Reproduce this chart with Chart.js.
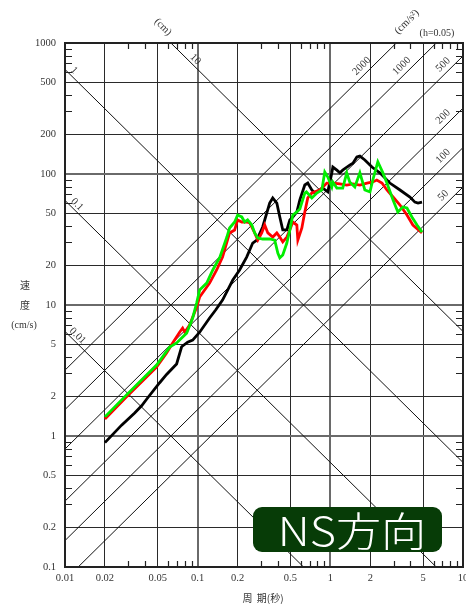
<!DOCTYPE html>
<html><head><meta charset="utf-8">
<script src="https://cdn.jsdelivr.net/npm/chart.js@4.4.0/dist/chart.umd.min.js"></script>
<style>html,body{margin:0;padding:0;background:#fff;}#wrap{width:466px;height:605px;position:relative;}</style>
</head><body><div id="wrap"><canvas id="c" width="466" height="605"></canvas></div>
<script>
// ---- axis ticks ----
const xTicks = [0.01,0.02,0.05,0.1,0.2,0.5,1,2,5,10];
const yTicks = [0.1,0.2,0.5,1,2,5,10,20,50,100,200,500,1000];
// ---- tripartite reference lines ----
const dispLines = [0.01,0.1,1,10];            // displacement (cm)
const dispLabelT = [0.0116,0.0115,0.0109,0.0898];
const accLines = [50,100,200,500,1000,2000];  // acceleration (cm/s^2)
const accLabelT = [7.8,7.8,7.8,7.8,3.8,1.9];
// ---- series (period s, velocity cm/s) ----
const blackT = [0.02,0.0267,0.0335,0.0378,0.0419,0.0517,0.0583,0.0694,0.0757,0.084,0.0917,0.1035,0.123,0.137,0.154,0.184,0.207,0.234,0.26,0.279,0.309,0.349,0.368,0.395,0.416,0.438,0.47,0.495,0.521,0.559,0.589,0.642,0.676,0.725,0.764,0.833,0.878,0.957,1.026,1.045,1.12,1.18,1.24,1.4,1.48,1.585,1.67,1.82,2.06,2.36,2.81,3.35,3.98,4.34,4.58,4.91];
const blackV = [0.89,1.21,1.5,1.7,1.95,2.55,2.95,3.55,4.8,5.2,5.4,6.2,7.96,9.2,10.9,15.5,18.5,23.2,29.7,31.3,39.4,60,65.6,60,47,37.4,37.4,44.6,47,51.3,63.4,82.4,85.3,75.5,71.6,75.5,78,73,102,113,107,102,107,117,121,135,137,128,113,102,85.3,75.5,66.7,61,60,61];
const redT = [0.02,0.0291,0.049,0.0583,0.0648,0.0731,0.077,0.08,0.087,0.0983,0.1035,0.123,0.139,0.154,0.174,0.19,0.2,0.215,0.234,0.247,0.269,0.284,0.304,0.32,0.338,0.368,0.395,0.416,0.438,0.47,0.495,0.521,0.559,0.569,0.61,0.642,0.676,0.725,0.764,0.833,0.878,0.941,1.045,1.18,1.33,1.48,1.67,1.89,2.09,2.24,2.45,2.67,2.97,3.35,3.78,4.19,4.91];
const redV = [1.35,1.99,3.36,4.3,5.13,6.2,6.67,6.2,7.03,9.66,11.5,14.7,18.5,23.2,35.5,37.4,44.6,43,43,42.3,35.5,31.3,35.5,40.8,35.5,33,35.5,33,30.3,33,37.4,43,40.8,31.3,38.7,51.3,65.6,71.6,73,75.5,79.6,85.3,85.3,83.9,82.4,83.9,82.4,85.3,86.9,90,85.3,75.5,66.7,58,48.6,40.8,35.5];
const greenT = [0.02,0.0291,0.049,0.0615,0.0694,0.0826,0.0917,0.0983,0.1035,0.117,0.13,0.147,0.166,0.174,0.19,0.2,0.215,0.226,0.238,0.256,0.269,0.284,0.309,0.349,0.381,0.402,0.416,0.438,0.47,0.495,0.521,0.559,0.589,0.642,0.66,0.725,0.791,0.863,0.908,0.957,1.026,1.045,1.12,1.24,1.33,1.4,1.53,1.67,1.82,1.99,2.09,2.28,2.49,2.67,2.97,3.23,3.52,3.78,4.12,4.5,4.91];
const greenV = [1.4,2.06,3.48,4.77,5.13,6.1,7.96,10.4,13,14.7,18.5,23.2,33,38.7,43,48.6,47,43,44.6,40.8,35.5,32.5,31.9,31.9,31.3,24.9,22.9,24.1,29.7,37.4,48.6,51.3,54.1,71.6,73,65.6,71.6,75.5,103.6,94.8,79.6,86.9,78,78,102,86.9,79.6,102,75.5,73,90,124,102,85.3,63.4,51.3,56,55,47,40.8,36];

const TWO_PI = 2*Math.PI;
const pts = (T,V)=>T.map((t,i)=>({x:t,y:V[i]}));
const isDecade = v => Math.abs(Math.log10(v)-Math.round(Math.log10(v)))<1e-9;

const refSets = [];
dispLines.forEach(D=>refSets.push({data:[{x:0.01,y:TWO_PI*D/0.01},{x:10,y:TWO_PI*D/10}],borderColor:'#111',borderWidth:1,pointRadius:0,showLine:true,clip:0,order:10}));
accLines.forEach(A=>refSets.push({data:[{x:0.01,y:A*0.01/TWO_PI},{x:10,y:A*10/TWO_PI}],borderColor:'#111',borderWidth:1,pointRadius:0,showLine:true,clip:0,order:10}));

const SERIF = '"Liberation Serif", "DejaVu Serif", serif';
const CJK = '"Noto Sans CJK JP", sans-serif';

const deco = {
  id:'deco',
  afterDraw(chart){
    const {ctx, chartArea:a, scales:{x,y}} = chart;
    ctx.save();
    ctx.strokeStyle='#222'; ctx.lineWidth=2;
    ctx.strokeRect(a.left,a.top,a.right-a.left,a.bottom-a.top);
    // minor ticks
    ctx.lineWidth=1.2; ctx.strokeStyle='#222';
    const mult=[3,4,6,7,8,9];
    for(let k=-2;k<=0;k++) for(const m of mult){
      const px=Math.round(x.getPixelForValue(m*Math.pow(10,k)))+0.5;
      ctx.beginPath(); ctx.moveTo(px,a.top); ctx.lineTo(px,a.top+6);
      ctx.moveTo(px,a.bottom); ctx.lineTo(px,a.bottom-6); ctx.stroke();
    }
    for(let k=-1;k<=2;k++) for(const m of mult){
      const py=Math.round(y.getPixelForValue(m*Math.pow(10,k)))+0.5;
      ctx.beginPath(); ctx.moveTo(a.left,py); ctx.lineTo(a.left+7,py);
      ctx.moveTo(a.right,py); ctx.lineTo(a.right-7,py); ctx.stroke();
    }
    // rotated labels
    const rot=(txt,cx,cy,ang,font)=>{
      ctx.save(); ctx.translate(cx,cy); ctx.rotate(ang);
      ctx.font=font; ctx.fillStyle='#333'; ctx.textAlign='center'; ctx.textBaseline='middle';
      ctx.fillText(txt,0,0); ctx.restore();
    };
    const f10='10.5px '+SERIF;
    dispLines.forEach((D,i)=>{
      const T=dispLabelT[i];
      const px=x.getPixelForValue(T), py=y.getPixelForValue(TWO_PI*D/T);
      rot(String(D),px+4,py-4,Math.PI/4,f10);
    });
    accLines.forEach((A,i)=>{
      const T=accLabelT[i];
      const px=x.getPixelForValue(T), py=y.getPixelForValue(A*T/TWO_PI);
      rot(String(A),px-5.5,py-5.5,-Math.PI/4,f10);
    });
    rot('(cm)',163,27,Math.PI/4,f10);
    rot('(cm/s²)',407,22,-Math.PI/4,f10);
    rot('(h=0.05)',437,33,0,'10px '+SERIF);
    // axis titles
    rot('速',25,285,0,'10px '+CJK);
    rot('度',25,305,0,'10px '+CJK);
    rot('(cm/s)',24,325,0,'10px '+SERIF);
    rot('周  期(秒)',263,598,0,'10px '+CJK);
    // NS box
    ctx.fillStyle='#073c07';
    ctx.beginPath(); ctx.roundRect(253,507,189,45,9); ctx.fill();
    ctx.save(); ctx.translate(352,531); ctx.scale(1.13,1);
    ctx.fillStyle='#fff'; ctx.font='300 40px '+CJK; ctx.textAlign='center'; ctx.textBaseline='middle';
    ctx.fillText('NS方向',0,0);
    ctx.restore();
    ctx.restore();
  }
};

new Chart(document.getElementById('c'),{
  type:'scatter',
  data:{datasets:[
    {data:pts(greenT,greenV),borderColor:'#00ee00',borderWidth:2.8,pointRadius:0,showLine:true,clip:0,order:0},
    {data:pts(redT,redV),borderColor:'#ff0000',borderWidth:2.8,pointRadius:0,showLine:true,clip:0,order:1},
    {data:pts(blackT,blackV),borderColor:'#000',borderWidth:2.8,pointRadius:0,showLine:true,clip:0,order:2},
    ...refSets
  ]},
  options:{
    responsive:false, animation:false, devicePixelRatio:1,
    layout:{padding:{top:43,right:3,left:0,bottom:0}},
    plugins:{legend:{display:false},tooltip:{enabled:false}},
    scales:{
      x:{type:'logarithmic',min:0.01,max:10,position:'bottom',
        afterBuildTicks(s){s.ticks=xTicks.map(v=>({value:v}));},
        afterFit(s){s.height=38;s.paddingLeft=0;s.paddingRight=0;},
        ticks:{autoSkip:false,maxRotation:0,minRotation:0,padding:5,color:'#333',font:{family:SERIF,size:10.5},callback:v=>xTicks.includes(v)?String(v):''},
        grid:{drawTicks:false,color:c=>isDecade(c.tick.value)?'#6a6a6a':'#2a2a2a',lineWidth:c=>isDecade(c.tick.value)?2:1},
        border:{display:true,color:'#222',width:2}},
      y:{type:'logarithmic',min:0.1,max:1000,
        afterBuildTicks(s){s.ticks=yTicks.map(v=>({value:v}));},
        afterFit(s){s.width=65;s.paddingTop=0;s.paddingBottom=0;},
        ticks:{autoSkip:false,padding:9,color:'#333',font:{family:SERIF,size:10.5},callback:v=>yTicks.includes(v)?String(v):''},
        grid:{drawTicks:false,color:c=>isDecade(c.tick.value)?'#6a6a6a':'#2a2a2a',lineWidth:c=>isDecade(c.tick.value)?2:1},
        border:{display:true,color:'#222',width:2}}
    }
  },
  plugins:[deco]
});
</script></body></html>
